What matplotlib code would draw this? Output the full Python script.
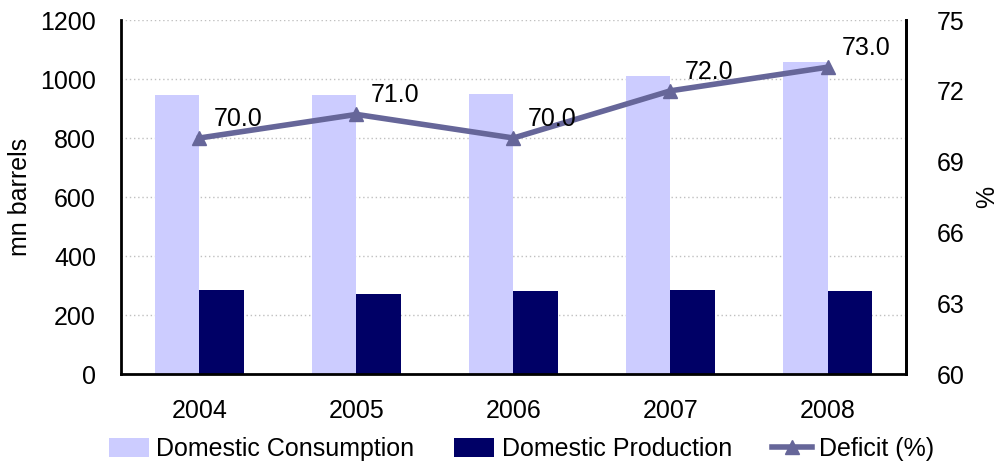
import matplotlib
matplotlib.use('Agg')
import matplotlib.pyplot as plt
import numpy as np

plt.rcParams['font.family'] = ['Liberation Sans', 'DejaVu Sans']

years = ['2004', '2005', '2006', '2007', '2008']
consumption = [946, 946, 949, 1010, 1058]
production = [285, 271, 282, 285, 281]
deficit = [70.0, 71.0, 70.0, 72.0, 73.0]

fs = 18
fig = plt.figure(figsize=(10.03, 4.63), dpi=100)
ax = fig.add_axes([0.1206, 0.1922, 0.7827, 0.7646])
x = np.arange(len(years))
w = 0.285

ax.bar(x - w/2, consumption, w, color='#ccccff', label='Domestic Consumption', zorder=2)
ax.bar(x + w/2, production, w, color='#000066', label='Domestic Production', zorder=2)
ax.set_ylim(0, 1200)
ax.set_yticks(range(0, 1201, 200))
ax.set_xlim(-0.5, 4.5)
ax.set_xticks(x)
ax.set_xticklabels(years)
ax.yaxis.grid(True, linestyle=(0, (1, 2)), color='#c0c0c0', linewidth=1, zorder=0)
ax.set_axisbelow(True)
ax.tick_params(axis='both', length=0, labelsize=fs)
ax.tick_params(axis='y', pad=18)
ax.tick_params(axis='x', pad=18)
ax.set_ylabel('mn barrels', fontsize=fs, labelpad=6)
ax.spines['top'].set_visible(False)
for s in ['left', 'bottom', 'right']:
    ax.spines[s].set_linewidth(2)

ax2 = ax.twinx()
ax2.plot(x, deficit, color='#666699', linewidth=4, marker='^', markersize=10,
         label='Deficit (%)', zorder=3)
ax2.set_ylim(60, 75)
ax2.set_yticks(range(60, 76, 3))
ax2.tick_params(axis='y', length=0, labelsize=fs, pad=22)
ax2.set_ylabel('%', fontsize=fs, labelpad=8)
ax2.spines['top'].set_visible(False)
ax2.spines['right'].set_linewidth(2)
ax2.spines['left'].set_visible(False)
ax2.spines['bottom'].set_visible(False)
for xi, d in zip(x, deficit):
    ax2.annotate(f'{d:.1f}', (xi, d), xytext=(10, 5), textcoords='offset points',
                 fontsize=fs, ha='left', va='bottom')

h1, l1 = ax.get_legend_handles_labels()
h2, l2 = ax2.get_legend_handles_labels()
fig.legend(h1 + h2, l1 + l2, loc='lower center', ncol=3, frameon=False,
           fontsize=fs, bbox_to_anchor=(0.52, -0.045), handlelength=1.6,
           handleheight=0.8, columnspacing=1.6, handletextpad=0.3)

fig.savefig('out.png', dpi=100)
